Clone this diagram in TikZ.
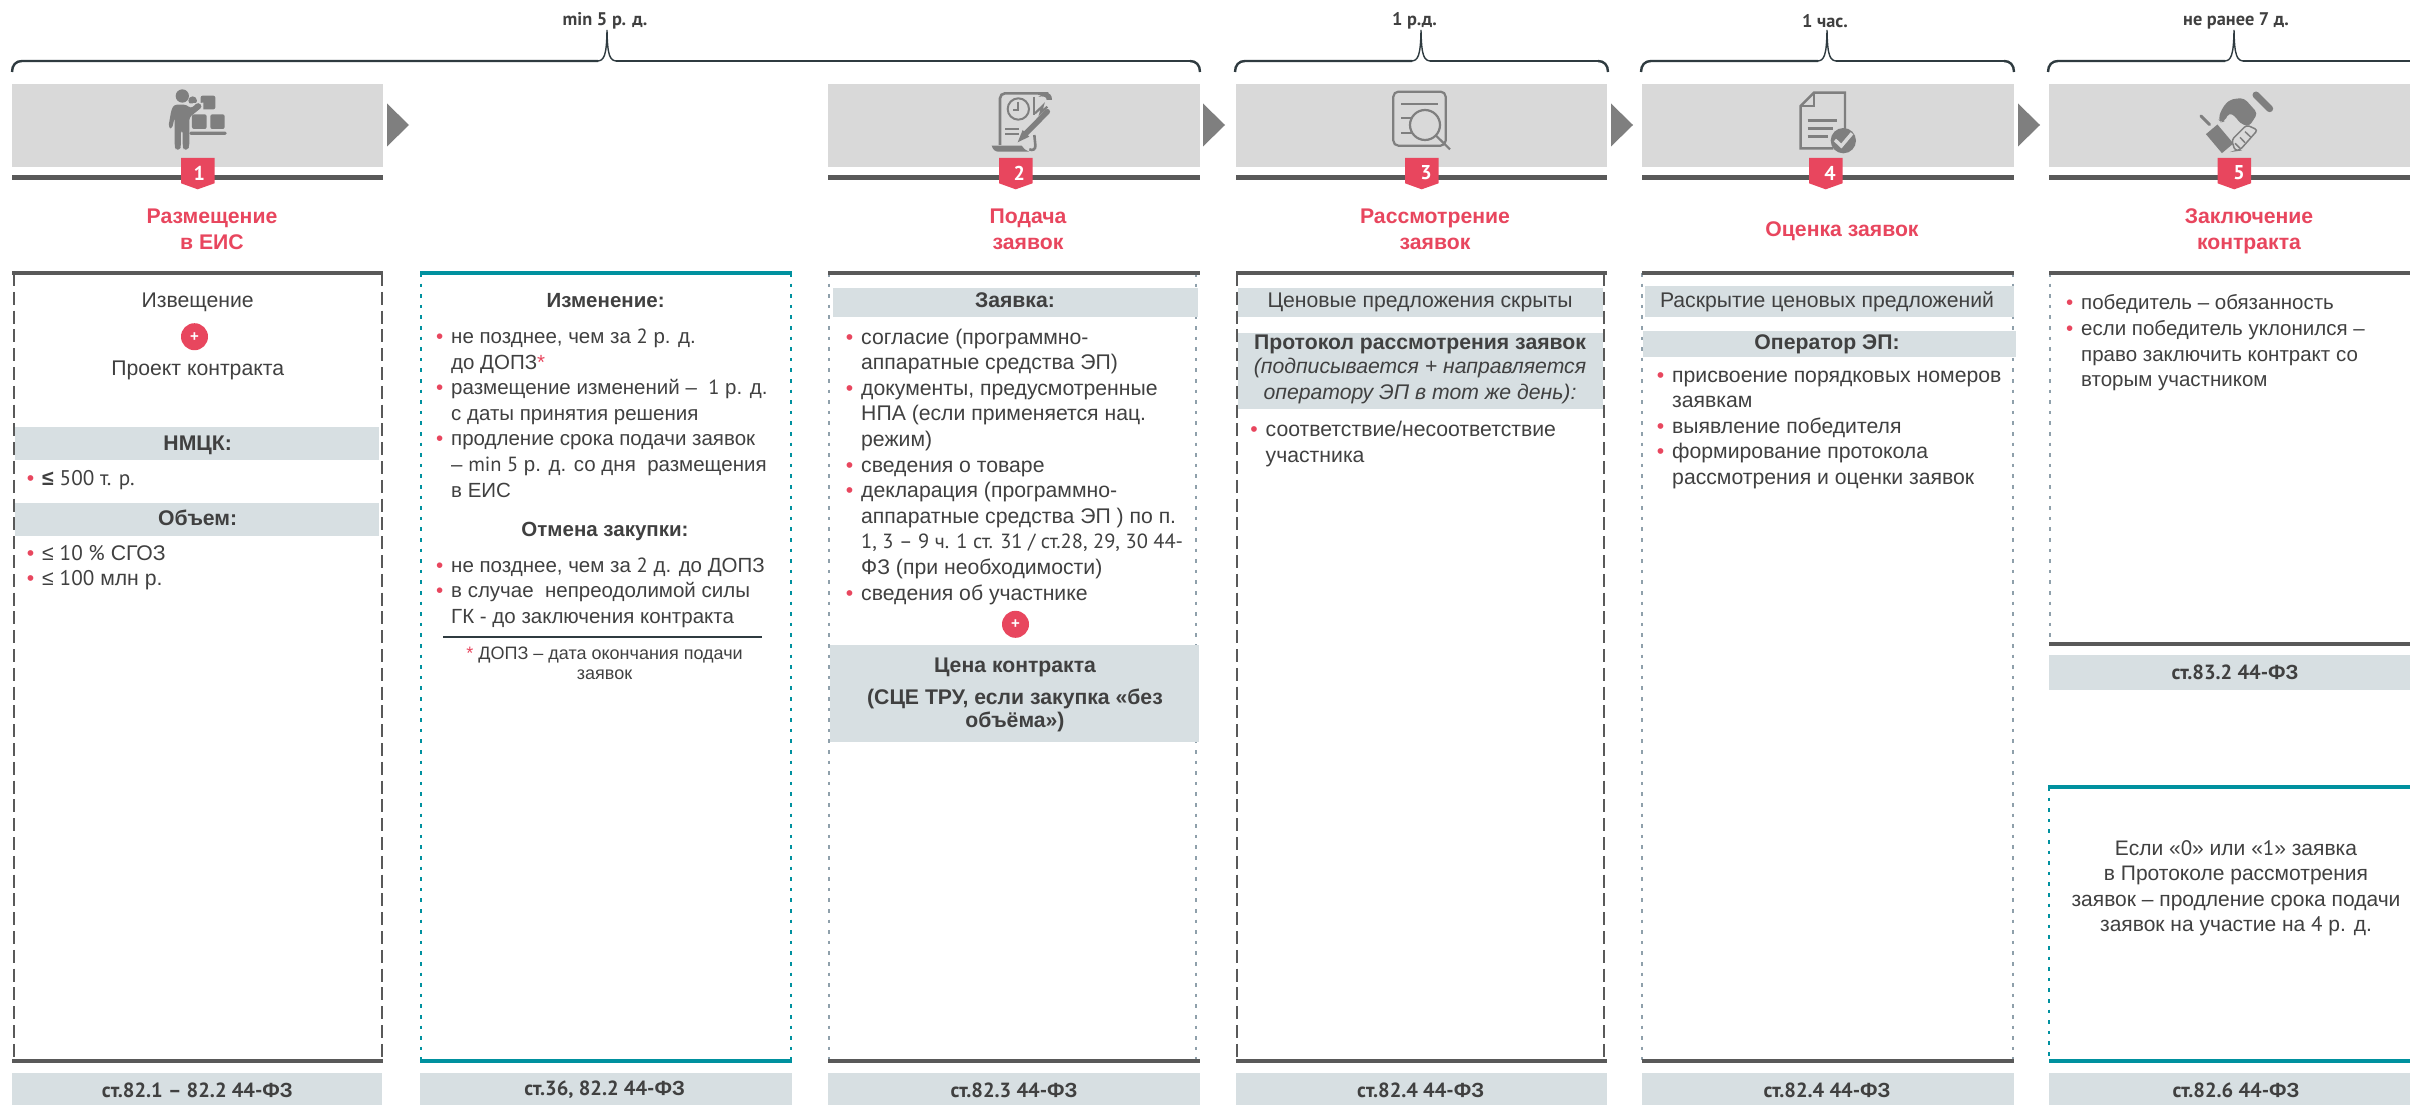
\documentclass[tikz,border=0pt]{standalone}
\usepackage{fontspec}
\setmainfont{Liberation Sans}
\newfontfamily\myr{PT Sans}
\usetikzlibrary{calc}
\definecolor{bandc}{HTML}{D9D9D9}
\definecolor{barc}{HTML}{595959}
\definecolor{tealc}{HTML}{00919F}
\definecolor{footc}{HTML}{D7DFE2}
\definecolor{redc}{HTML}{E8465E}
\definecolor{txtc}{HTML}{404040}
\definecolor{bracec}{HTML}{2F3B40}
\definecolor{arrowc}{HTML}{7F7F7F}
\definecolor{dotc}{HTML}{8FA0AB}
\definecolor{iconc}{HTML}{7F7F7F}
\newcommand{\bodyf}{\fontsize{21.2}{25.6}\selectfont}
\newcommand{\bodyn}{\fontsize{20.5}{25.6}\selectfont}
\newcommand{\nm}[1]{{\myr #1}}
\newcommand{\bl}{\leavevmode\llap{\textcolor{redc}{•}\hspace{8pt}}}
\tikzset{
  leftblock/.style={inner sep=0pt,anchor=north west,align=left,font=\bodyf,text=txtc,execute at begin node=\strut,yshift=-5pt},
  midblock/.style={inner sep=0pt,anchor=north,align=center,font=\bodyf,text=txtc,execute at begin node=\strut},
  heading/.style={midblock,font=\bodyf\bfseries},
  stagetitle/.style={midblock,font=\bodyf\bfseries,text=redc},
  timing/.style={inner sep=0pt,font=\fontsize{18.3}{20}\selectfont\myr\bfseries,text=txtc},
  foottext/.style={inner sep=0pt,font=\fontsize{20.5}{25}\selectfont\bfseries,text=txtc},
  footnotetext/.style={midblock,font=\fontsize{18}{20.6}\selectfont},
  band/.style={fill=bandc,draw=none},
  shade/.style={fill=footc,draw=none},
  bar/.style={draw=barc,line width=4pt},
  tealbar/.style={draw=tealc,line width=4pt},
  dashside/.style={draw=barc,line width=2pt,dash pattern=on 13pt off 5.8pt},
  dotside/.style={draw=dotc,line width=2pt,dash pattern=on 3.5pt off 7.1pt},
  tealside/.style={draw=tealc,line width=2pt,dash pattern=on 3.5pt off 7.1pt},
  stagearrow/.style={fill=arrowc,draw=none},
  badge/.style={fill=redc,draw=none},
  badgenum/.style={inner sep=0pt,text=white,font=\fontsize{20}{20}\myr\bfseries},
  plusdot/.style={circle,fill=redc,inner sep=0pt,minimum size=27pt,text=white,font=\fontsize{15}{15}\selectfont\bfseries},
  iconline/.style={draw=iconc,line width=2.2pt},
  iconfill/.style={fill=iconc,draw=none},
}
% left, tip, right
\newcommand{\bracetop}[3]{%
  \draw[bracec,line width=2.4pt] (#1,72) .. controls (#1,65) and ({#1+4},61) .. ({#1+10},61) -- ({#2-9},61);
  \draw[bracec,line width=2.4pt] ({#2+9},61) -- (#3,61);
  \draw[bracec,line width=1.4pt] ({#2-10},61) .. controls ({#2-3},61) and ({#2-.4},56) .. (#2,30) .. controls ({#2+.4},56) and ({#2+3},61) .. ({#2+10},61);
}
\newcommand{\braceend}[1]{%
  \draw[bracec,line width=2.4pt] ({#1-10},61) .. controls ({#1-4},61) and (#1,65) .. (#1,72);
}
% left right, badge left, number x, number
\newcommand{\stagehead}[5]{%
  \fill[band] (#1,84) rectangle (#2,167.5);
  \draw[bar] (#1,177.5) -- (#2,177.5);
  \fill[badge] (#3,158) -- ({#3+33.5},158) -- ({#3+33.5},183.3) -- ({#3+16.7},189.3) -- (#3,183.3) -- cycle;
  \node[badgenum] (num#5) at (#4,173) {#5};
}
\newcommand{\stagearrowat}[1]{%
  \fill[stagearrow] (#1,103.5) -- ({#1+22},125) -- (#1,146.5) -- cycle;
}
\begin{document}
\begin{tikzpicture}[x=1pt,y=-1pt]
\useasboundingbox (0,0) rectangle (2410,1105);
\fill[white] (0,0) rectangle (2410,1105);

% braces
\bracetop{12}{607}{1190}\braceend{1200}
\bracetop{1235}{1421}{1598}\braceend{1608}
\bracetop{1641}{1827}{2004}\braceend{2014}
\bracetop{2048}{2234}{2410}
\node[timing] (t1) at (605,21) {min 5 р. д.};
\node[timing] (t2) at (1414.5,21) {1 р.д.};
\node[timing] (t3) at (1825,21) {1 час.};
\node[timing] (t4) at (2236,21) {не ранее 7 д.};

% stage headers
\stagehead{12}{383}{181}{199.3}{1}
\stagehead{828}{1200}{999}{1019.3}{2}
\stagehead{1236}{1607}{1405}{1426}{3}
\stagehead{1642}{2014}{1809}{1830}{4}
\stagehead{2049}{2410}{2217.5}{2239}{5}
\stagearrowat{387}\stagearrowat{1203}\stagearrowat{1611}\stagearrowat{2018}

% stage titles
\node[stagetitle] (title1) at (212,209) {Размещение\\в ЕИС};
\node[stagetitle] (title2) at (1028,209) {Подача\\заявок};
\node[stagetitle] (title3) at (1435,209) {Рассмотрение\\заявок};
\node[stagetitle] (title4) at (1842,218) {Оценка заявок};
\node[stagetitle] (title5) at (2249,209) {Заключение\\контракта};

% icon 1
\begin{scope}[shift={(150,80)},x=.3333pt,y=-.3333pt]
  \fill[iconc] (97,48) circle (20);
  \fill[iconc] (128,62) circle (13);
  \fill[iconc,rounded corners=2pt] (152,47) rectangle (196,88);
  \fill[iconc,rounded corners=2pt] (126,103) rectangle (170,147);
  \fill[iconc,rounded corners=2pt] (181,103) rectangle (224,147);
  \fill[iconc,rounded corners=1.5pt] (118,155) rectangle (230,165);
  \fill[bandc] (112,70) -- (125,70) -- (160,68) -- (160,100) -- (112,100) -- cycle;
  \fill[iconc,rounded corners=3pt] (72,74) -- (110,74) -- (122,86) -- (145,66) -- (158,80) -- (118,112) -- (118,200) -- (112,209) -- (102,209) -- (98,200) -- (98,150) -- (93,150) -- (93,200) -- (88,209) -- (78,209) -- (74,200) -- (74,112) -- (66,147) -- (55,142) -- (64,90) -- cycle;
\end{scope}

% icon 2
\begin{scope}[shift={(970,80)},x=.3333pt,y=-.3333pt]
  \draw[iconline,line width=2.6pt,rounded corners=5pt] (90,195) -- (90,40) -- (235,40);
  \fill[iconc] (205,40) rectangle (232,44);
  \fill[iconc] (225,38) .. controls (240,38) and (246,46) .. (246,60) -- (230,60) .. controls (230,50) and (222,48) .. (205,50) -- cycle;
  \draw[iconline] (192,50) -- (192,105);
  \draw[iconline,line width=2.6pt] (193,165) -- (196,195) .. controls (198,208) and (188,213) .. (178,208);
  \draw[iconline,line width=2pt] (145,87) circle (32);
  \draw[iconline,line width=2pt] (145,65) -- (145,89) -- (128,89);
  \draw[iconline,line width=2pt] (105,147) -- (148,147) (105,161) -- (148,161);
  \draw[iconline,line width=5.5pt,line cap=round] (168,160) -- (232,95);
  \fill[iconc] (143,187) -- (158,150) -- (178,170) -- cycle;
  \draw[iconline,line width=2.2pt] (195,100) -- (218,78) -- (212,98) -- (232,80);
  \fill[iconc] (65,197) -- (155,197) .. controls (160,205) and (165,210) .. (178,215) -- (85,215) .. controls (75,215) and (68,208) .. (65,197) -- cycle;
\end{scope}

% icon 3
\begin{scope}[shift={(1375,80)},x=.3333pt,y=-.3333pt]
  \draw[iconline,rounded corners=5pt] (55,35) rectangle (212,197);
  \draw[iconline] (78,72) -- (190,72);
  \draw[iconline] (78,115) -- (112,115) (78,160) -- (112,160);
  \draw[iconline,fill=bandc] (150,135) circle (45);
  \draw[iconline] (183,167) -- (225,208);
\end{scope}

% icon 4
\begin{scope}[shift={(1780,80)},x=.3333pt,y=-.3333pt]
  \draw[iconline,line width=2.4pt,line join=miter] (160,205) -- (62,205) -- (62,78) -- (102,38) -- (195,38) -- (195,150);
  \draw[iconline,line width=2.4pt] (102,38) -- (102,78) -- (62,78);
  \draw[iconline,line width=3pt] (83,123) -- (172,123) (83,146) -- (160,146) (83,171) -- (145,171);
  \fill[iconc] (190,182) circle (38);
  \draw[draw=bandc,line width=3.4pt] (165,180) -- (184,198) -- (216,160);
\end{scope}

% icon 5
\begin{scope}[shift={(2185,80)},x=.3333pt,y=-.3333pt]
  \draw[iconc,line width=7pt,line cap=round] (213,45) -- (254,86);
  \draw[iconc,line width=3pt,line cap=round] (48,108) -- (74,134);
  \draw[iconc,line width=15pt] (80,148) -- (128,205);
  \fill[iconc,rounded corners=4pt] (100,118) .. controls (110,85) and (125,62) .. (155,55) -- (178,55) -- (218,100) -- (192,140) -- (165,130) -- (150,108) -- (132,98) -- (118,125) -- (108,127) -- cycle;
  \draw[iconc,line width=1.5pt,fill=bandc,rounded corners=3pt] (140,180) -- (185,135) -- (218,150) -- (165,210) -- (150,212) -- cycle;
  \draw[iconc,line width=1.5pt] (150,190) -- (165,205) (165,172) -- (180,188) (180,155) -- (198,172);
\end{scope}

% ---- column 1
\draw[dashside] (13.5,273) -- (13.5,1060);
\draw[dashside] (382,273) -- (382,1060);
\draw[bar] (12,273) -- (383,273);
\draw[bar] (12,1060.5) -- (383,1060.5);
\node[midblock] (c1a) at (197.7,289) {Извещение};
\node[plusdot] (plus1) at (194.5,336.7) {+};
\node[midblock] (c1b) at (197.7,357) {Проект контракта};
\fill[shade] (15,427) rectangle (379,460);
\node[heading] (c1c) at (197.7,432) {НМЦК:};
\node[leftblock] (c1d) at (42,462) {\bl{\bfseries≤} \nm{500 т. р.}};
\fill[shade] (15,503) rectangle (379,536);
\node[heading] (c1e) at (197.7,507) {Объем:};
\node[leftblock] (c1f) at (42,540) {\bl≤ \nm{10 \%} СГОЗ\\\bl≤ \nm{100} млн р.};
\fill[shade] (12,1073) rectangle (382,1105);
\node[foottext] (f1) at (197.4,1090) {\nm{ст.82.1 – 82.2 44-}ФЗ};

% ---- column 2
\draw[tealside] (420.5,273) -- (420.5,1060);
\draw[tealside] (791,273) -- (791,1060);
\draw[tealbar] (420,273) -- (792,273);
\draw[tealbar] (420,1060.5) -- (792,1060.5);
\node[heading,font=\bodyn\bfseries] (c2a) at (605.6,289) {Изменение:};
\node[leftblock,font=\bodyn] (c2b) at (451,323.6) {\bl не позднее, чем за \nm{2} р. д.\\до ДОПЗ\textcolor{redc}{*}\\\bl размещение изменений – \ \nm{1} р. д.\\с даты принятия решения\\\bl продление срока подачи заявок\\– \nm{min 5} р. д. со дня \ размещения\\в ЕИС};
\node[heading,font=\bodyn\bfseries] (c2c) at (605,518) {Отмена закупки:};
\node[leftblock,font=\bodyn] (c2d) at (451,552.5) {\bl не позднее, чем за \nm{2} д. до ДОПЗ\\\bl в случае \ непреодолимой силы\\ГК - до заключения контракта};
\draw[bracec,line width=2pt] (443,636.5) -- (762,636.5);
\node[footnotetext] (c2e) at (604.6,646.5) {\textcolor{redc}{*} ДОПЗ – дата окончания подачи\\заявок};
\fill[shade] (420,1073) rectangle (792,1105);
\node[foottext] (f2) at (604.6,1090) {\nm{ст.36, 82.2 44-}ФЗ};

% ---- column 3
\draw[dotside] (829,273) -- (829,1060);
\draw[dotside] (1196,273) -- (1196,1060);
\draw[bar] (828,273) -- (1200,273);
\draw[bar] (828,1060.5) -- (1200,1060.5);
\fill[shade] (833,288) rectangle (1197.5,317);
\node[heading] (c3a) at (1015,289) {Заявка:};
\node[leftblock] (c3b) at (861,323.6) {\bl согласие (программно-\\аппаратные средства ЭП)\\\bl документы, предусмотренные\\НПА (если применяется нац.\\режим)\\\bl сведения о товаре\\\bl декларация (программно-\\аппаратные средства ЭП ) по п.\\{\myr\fontsize{20.5}{25.6}\selectfont 1, 3 – 9 ч. 1 ст. 31 / ст.28, 29, 30 44-}\\ФЗ (при необходимости)\\\bl сведения об участнике};
\node[plusdot] (plus2) at (1015.5,624.3) {+};
\fill[shade] (830,645) rectangle (1199,742);
\node[heading] (c3c) at (1015,654.3) {Цена контракта};
\node[heading,execute at begin node={\baselineskip=23pt\strut}] (c3d) at (1015,689) {(СЦЕ ТРУ, если закупка «без\\объёма»)};
\fill[shade] (828,1073) rectangle (1200,1105);
\node[foottext] (f3) at (1014,1090) {\nm{ст.82.3 44-}ФЗ};

% ---- column 4
\draw[dashside] (1237,273) -- (1237,1060);
\draw[dashside] (1604,273) -- (1604,1060);
\draw[bar] (1236,273) -- (1607,273);
\draw[bar] (1236,1060.5) -- (1607,1060.5);
\fill[shade] (1238,288) rectangle (1603,317);
\node[midblock] (c4a) at (1420,289) {Ценовые предложения скрыты};
\fill[shade] (1238,333) rectangle (1603,409);
\node[heading] (c4b) at (1420,331) {Протокол рассмотрения заявок};
\node[midblock,font=\bodyf\itshape] (c4c) at (1420,358) {(подписывается + направляется\\оператору ЭП в тот же день):};
\node[leftblock] (c4d) at (1265.5,416) {\bl соответствие/несоответствие\\участника};
\fill[shade] (1236,1073) rectangle (1607,1105);
\node[foottext] (f4) at (1420.7,1090) {\nm{ст.82.4 44-}ФЗ};

% ---- column 5
\draw[dotside] (1642.4,273) -- (1642.4,1060);
\draw[dotside] (2013,273) -- (2013,1060);
\draw[bar] (1642,273) -- (2014,273);
\draw[bar] (1642,1060.5) -- (2014,1060.5);
\fill[shade] (1645,286) rectangle (2014,317);
\node[midblock] (c5a) at (1827,289) {Раскрытие ценовых предложений};
\fill[shade] (1643,331) rectangle (2016,357);
\node[heading] (c5b) at (1827,331) {Оператор ЭП:};
\node[leftblock] (c5c) at (1672,365.4) {\bl присвоение порядковых номеров\\заявкам\\\bl выявление победителя\\\bl формирование протокола\\рассмотрения и оценки заявок};
\fill[shade] (1642,1073) rectangle (2014,1105);
\node[foottext] (f5) at (1827,1090) {\nm{ст.82.4 44-}ФЗ};

% ---- column 6
\draw[dotside] (2050,273) -- (2050,643);
\draw[bar] (2049,273) -- (2410,273);
\draw[bar] (2049,643.5) -- (2410,643.5);
\node[leftblock,font=\bodyn] (c6a) at (2081,289.7) {\bl победитель – обязанность\\\bl если победитель уклонился –\\право заключить контракт со\\вторым участником};
\fill[shade] (2049,654.5) rectangle (2410,690);
\node[foottext] (f6a) at (2235,672.5) {\nm{ст.83.2 44-}ФЗ};
\draw[tealside] (2049,787) -- (2049,1060);
\draw[tealbar] (2048,787) -- (2410,787);
\draw[tealbar] (2049,1060.5) -- (2410,1060.5);
\node[midblock,font=\fontsize{21}{25.6}\selectfont] (c6b) at (2236,840) {Если «\nm{0}» или «\nm{1}» заявка\\в Протоколе рассмотрения\\заявок – продление срока подачи\\заявок на участие на \nm{4} р. д.};
\fill[shade] (2049,1073) rectangle (2410,1105);
\node[foottext] (f6b) at (2236,1090) {\nm{ст.82.6 44-}ФЗ};
\end{tikzpicture}
\end{document}
